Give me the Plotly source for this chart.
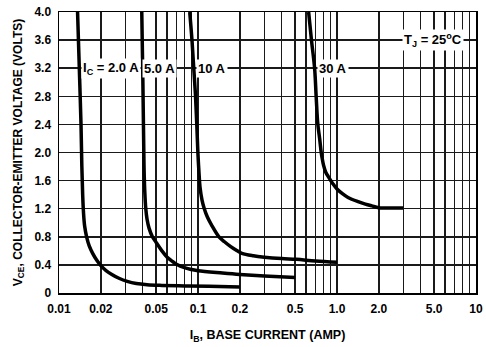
import math
import plotly.graph_objects as go

# ---- data ----
ic2_x = [0.0136, 0.0140, 0.0144, 0.0146, 0.0148, 0.0150, 0.0153, 0.0158, 0.0165, 0.0175, 0.0187, 0.0200,
         0.0218, 0.024, 0.027, 0.031, 0.036, 0.043, 0.055, 0.08, 0.12, 0.2]
ic2_y = [4.0, 3.2, 2.4, 1.8, 1.4, 1.15, 0.95, 0.8, 0.67, 0.56, 0.465, 0.39,
         0.32, 0.265, 0.21, 0.165, 0.135, 0.118, 0.108, 0.1, 0.095, 0.085]

ic5_x = [0.0394, 0.0400, 0.0405, 0.0409, 0.0414, 0.0421, 0.043, 0.0445, 0.047, 0.050, 0.055, 0.060,
         0.065, 0.070, 0.080, 0.090, 0.1, 0.15, 0.2, 0.3, 0.5]
ic5_y = [4.0, 3.2, 2.4, 1.8, 1.45, 1.2, 1.05, 0.92, 0.8, 0.72, 0.60, 0.51,
         0.455, 0.41, 0.36, 0.335, 0.317, 0.285, 0.265, 0.243, 0.22]

ic10_x = [0.0872, 0.0905, 0.0932, 0.096, 0.098, 0.0998, 0.1014, 0.1035, 0.107, 0.111, 0.1166, 0.125,
          0.1415, 0.155, 0.172, 0.19, 0.207, 0.25, 0.30, 0.4, 0.51, 0.7, 1.0]
ic10_y = [4.0, 3.6, 3.2, 2.8, 2.4, 2.0, 1.75, 1.5, 1.32, 1.2, 1.085, 0.97,
          0.80, 0.73, 0.66, 0.605, 0.565, 0.53, 0.51, 0.49, 0.48, 0.455, 0.437]

ic30_x = [0.625, 0.655, 0.69, 0.708, 0.728, 0.75, 0.77, 0.785, 0.80, 0.83, 0.87, 0.93,
          1.0, 1.1, 1.2, 1.42, 1.6, 1.78, 2.0, 2.5, 3.0]
ic30_y = [4.0, 3.6, 3.2, 2.8, 2.4, 2.2, 2.0, 1.9, 1.82, 1.72, 1.65, 1.56,
          1.48, 1.41, 1.36, 1.30, 1.265, 1.24, 1.215, 1.21, 1.21]

y_ticks = [0, 0.4, 0.8, 1.2, 1.6, 2.0, 2.4, 2.8, 3.2, 3.6, 4.0]
y_tick_labels = ["0", "0.4", "0.8", "1.2", "1.6", "2.0", "2.4", "2.8", "3.2", "3.6", "4.0"]

x_ticks = [0.01, 0.02, 0.05, 0.1, 0.2, 0.5, 1.0, 2.0, 5.0, 10]
x_tick_labels = ["0.01", "0.02", "0.05", "0.1", "0.2", "0.5", "1.0", "2.0", "5.0", "10"]
x_minor_grid = [0.03, 0.04, 0.06, 0.07, 0.08, 0.09, 0.3, 0.4, 0.6, 0.7, 0.8, 0.9,
                3, 4, 6, 7, 8, 9]

FONT = "Liberation Sans, Arial, sans-serif"
GRID = "#1a1a1a"

fig = go.Figure()
for xs, ys in [(ic2_x, ic2_y), (ic5_x, ic5_y), (ic10_x, ic10_y), (ic30_x, ic30_y)]:
    fig.add_trace(go.Scatter(x=xs, y=ys, mode="lines",
                             line=dict(color="black", width=3.5, shape="spline", smoothing=1.0),
                             showlegend=False, hoverinfo="skip"))

fig.update_xaxes(type="log", range=[-2, 1], tickvals=x_ticks, ticktext=x_tick_labels,
                 showgrid=True, gridcolor=GRID, gridwidth=1.5,
                 minor=dict(tickvals=x_minor_grid, showgrid=True, gridcolor=GRID, gridwidth=1.5, ticks=""),
                 showline=True, linecolor="black", linewidth=1.5, mirror=True,
                 ticks="", ticklabelstandoff=4, zeroline=False, automargin=False,
                 tickfont=dict(family=FONT, size=12, color="black", weight="bold"),
                 title=dict(text="I<sub>B</sub>, BASE CURRENT (AMP)", standoff=15,
                            font=dict(family=FONT, size=12.5, color="black", weight="bold")))
fig.update_yaxes(range=[0, 4.0], tickvals=y_ticks, ticktext=y_tick_labels,
                 showgrid=True, gridcolor=GRID, gridwidth=1.5,
                 showline=True, linecolor="black", linewidth=1.5, mirror=True,
                 ticks="", ticklabelstandoff=4, zeroline=False, automargin=False,
                 tickfont=dict(family=FONT, size=12, color="black", weight="bold"),
                 title=dict(text="V<sub>CE</sub>, COLLECTOR-EMITTER VOLTAGE (VOLTS)", standoff=9,
                            font=dict(family=FONT, size=12, color="black", weight="bold")))

labels = [
    ("I<sub>C</sub> = 2.0 A", 0.0143, 3.2),
    ("5.0 A", 0.0395, 3.2),
    ("10 A", 0.0970, 3.2),
    ("30 A", 0.715, 3.2),
    ("T<sub>J</sub> = 25<sup>o</sup>C", 2.95, 3.6),
]
for txt, xv, yv in labels:
    fig.add_annotation(x=math.log10(xv), y=yv, xref="x", yref="y", text=txt,
                       showarrow=False, xanchor="left", yanchor="middle",
                       bgcolor="white", borderpad=1,
                       font=dict(family=FONT, size=13, color="black", weight="bold"))

fig.update_layout(width=486, height=347, margin=dict(l=59, r=10, t=12, b=54),
                  paper_bgcolor="white", plot_bgcolor="white",
                  font=dict(family=FONT, color="black"))
fig.write_html("out.html", config={"displayModeBar": False, "staticPlot": True},
               post_script="document.body.style.margin='0px';document.body.style.overflow='hidden';")
